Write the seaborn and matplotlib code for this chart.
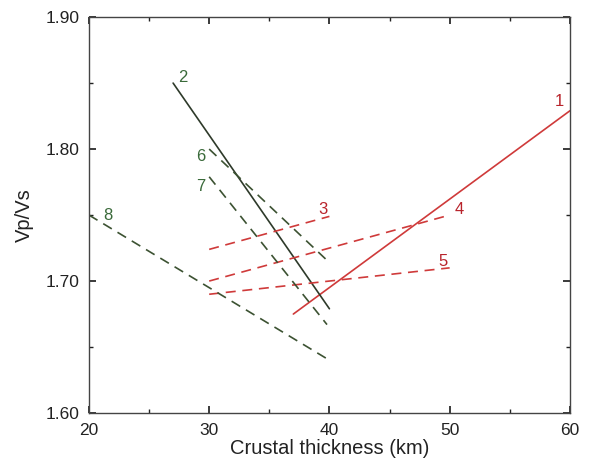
import matplotlib
matplotlib.use("Agg")
import matplotlib.pyplot as plt
from matplotlib.ticker import MultipleLocator, FormatStrFormatter
import seaborn as sns
import pandas as pd

# Trend lines: crustal thickness (km) vs Vp/Vs, endpoints
line_ids = ['1', '2', '3', '4', '5', '6', '7', '8']
x_start = [37, 27, 30, 30, 30, 30, 30, 20]
x_end = [60, 40, 40, 50, 50, 40, 39.8, 40]
y_start = [1.675, 1.850, 1.724, 1.700, 1.690, 1.800, 1.779, 1.750]
y_end = [1.829, 1.679, 1.749, 1.750, 1.710, 1.714, 1.667, 1.640]
groups = ['red', 'green', 'red', 'red', 'red', 'green', 'green', 'green']
solid = [True, True, False, False, False, False, False, False]

# label centres
label_x = [59.1, 27.8, 39.5, 50.8, 49.45, 29.3, 29.3, 21.6]
label_y = [1.836, 1.854, 1.7545, 1.754, 1.715, 1.794, 1.7715, 1.750]

line_colors = {'red': '#cf3a3a', 'green': '#3c5232'}
label_colors = {'red': '#b8232b', 'green': '#3a6a3a'}

rows = []
for i, lid in enumerate(line_ids):
    rows.append({'id': lid, 'x': x_start[i], 'y': y_start[i]})
    rows.append({'id': lid, 'x': x_end[i], 'y': y_end[i]})
df = pd.DataFrame(rows)

sns.set_theme(style="ticks")
plt.rcParams['font.family'] = ['Liberation Sans', 'DejaVu Sans']

fig = plt.figure(figsize=(5.93, 4.62), dpi=100)
ax = fig.add_axes([0.150, 0.106, 0.811, 0.857])

for i, lid in enumerate(line_ids):
    sub = df[df['id'] == lid]
    color = line_colors[groups[i]]
    if lid == '2':
        color = '#2e3a2a'
    sns.lineplot(data=sub, x='x', y='y', ax=ax, color=color, lw=1.2,
                 linestyle='-' if solid[i] else (0, (6, 4)), legend=False)
    ax.text(label_x[i], label_y[i], lid, color=label_colors[groups[i]],
            fontsize=12, ha='center', va='center')

ax.set_xlim(20, 60)
ax.set_ylim(1.60, 1.90)
ax.xaxis.set_major_locator(MultipleLocator(10))
ax.xaxis.set_minor_locator(MultipleLocator(5))
ax.yaxis.set_major_locator(MultipleLocator(0.1))
ax.yaxis.set_minor_locator(MultipleLocator(0.05))
ax.yaxis.set_major_formatter(FormatStrFormatter('%.2f'))
ax.tick_params(which='both', direction='in', top=True, right=True,
               labelsize=12.5, colors='#222222', pad=7)
ax.tick_params(which='major', length=5)
ax.tick_params(which='minor', length=3)
for sp in ax.spines.values():
    sp.set_color('#444444')
    sp.set_linewidth(1.0)

ax.set_xlabel('Crustal thickness (km)', fontsize=14.5, color='#222222', labelpad=1)
ax.set_ylabel('Vp/Vs', fontsize=14.5, color='#222222', labelpad=8)

fig.savefig('out.png', dpi=100)
